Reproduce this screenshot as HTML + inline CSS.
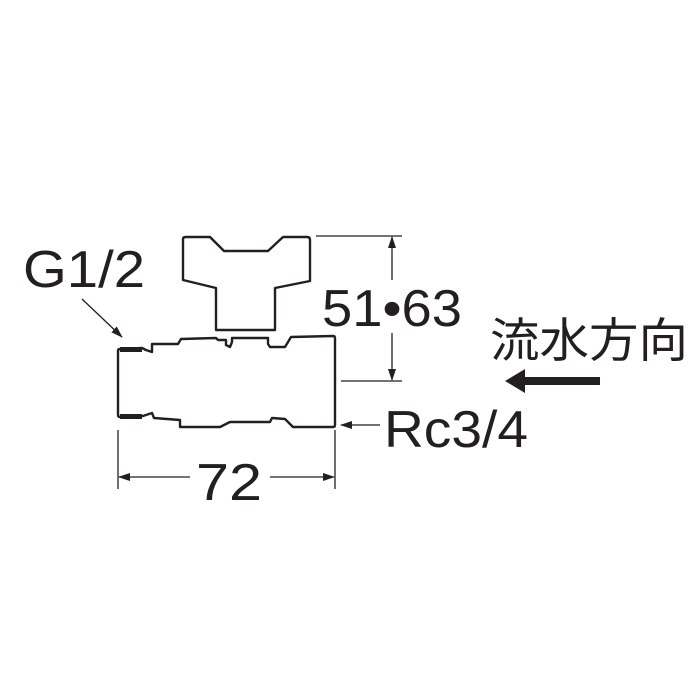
<!DOCTYPE html>
<html><head><meta charset="utf-8"><style>
html,body{margin:0;padding:0;background:#fff;}
svg{display:block;}
text{font-family:"Liberation Sans","Noto Sans CJK JP",sans-serif;fill:#231f20;}
</style></head><body>
<svg width="700" height="700" viewBox="0 0 700 700" xmlns="http://www.w3.org/2000/svg">
<defs>
<marker id="a" markerWidth="12" markerHeight="8" refX="11" refY="4" orient="auto" markerUnits="userSpaceOnUse">
<path d="M0,0 L12,4 L0,8 Z" fill="#231f20"/></marker>
</defs>
<g fill="none" stroke="#231f20" stroke-width="2.4" stroke-linejoin="round">
<path d="M216,330 L216,288 L183,280 L183,239 Q183,237 186,237 L210,237 L224,251 L268,251 L283,237 L307,237 Q310,237 310,240 L310,281 L275,288 L275,330 Z" fill="#fff"/>
<path d="M120,349 L142,348 L146,350 L152,352 L152,344 L178,344 L181,339 L216,338 L218,340 L226,340 L226,345 L230,347 L232,342 L232,338 L268,338 L268,344 L270,347 L285,347 L291,337 L333,336 Q335,336 335,338 L335,425 Q335,427 333,427 L293,427 L285,419 L272,418 L270,422 L230,422 L220,427 L180,427 L180,420 L154,418 L152,413 L143,416 L120,417 Q118,417 118,415 L118,351 Q118,349 120,349 Z"/>
</g>
<path d="M120,347 L142,347 L142,352 L120,352 Z M120,414 L142,414 L142,419 L120,419 Z" fill="#231f20"/>
<g stroke="#231f20" stroke-width="1.3" fill="none">
<line x1="316" y1="236" x2="402" y2="236"/>
<line x1="341" y1="381" x2="402" y2="381"/>
<line x1="392" y1="280" x2="392" y2="237" marker-end="url(#a)"/>
<line x1="392" y1="333" x2="392" y2="380" marker-end="url(#a)"/>
<line x1="118" y1="430" x2="118" y2="489"/>
<line x1="335" y1="430" x2="335" y2="489"/>
<line x1="190" y1="477" x2="119" y2="477" marker-end="url(#a)"/>
<line x1="270" y1="477" x2="334" y2="477" marker-end="url(#a)"/>
<line x1="380" y1="425" x2="341" y2="425" marker-end="url(#a)"/>
<line x1="82" y1="299" x2="122" y2="337" marker-end="url(#a)"/>
</g>
<path d="M600,377 L525,377 L525,369 L505,381 L525,393 L525,385 L600,385 Z" fill="#231f20"/>
<g font-size="52">
<text x="23" y="287" textLength="122" lengthAdjust="spacingAndGlyphs">G1/2</text>
<text x="322" y="326" textLength="140" lengthAdjust="spacingAndGlyphs">51•63</text>
<text x="384" y="447" textLength="144" lengthAdjust="spacingAndGlyphs">Rc3/4</text>
<text x="196" y="500" textLength="66" lengthAdjust="spacingAndGlyphs">72</text>
</g>
<text x="490" y="357" font-size="47" textLength="198" lengthAdjust="spacingAndGlyphs">流水方向</text>
</svg>
</body></html>
